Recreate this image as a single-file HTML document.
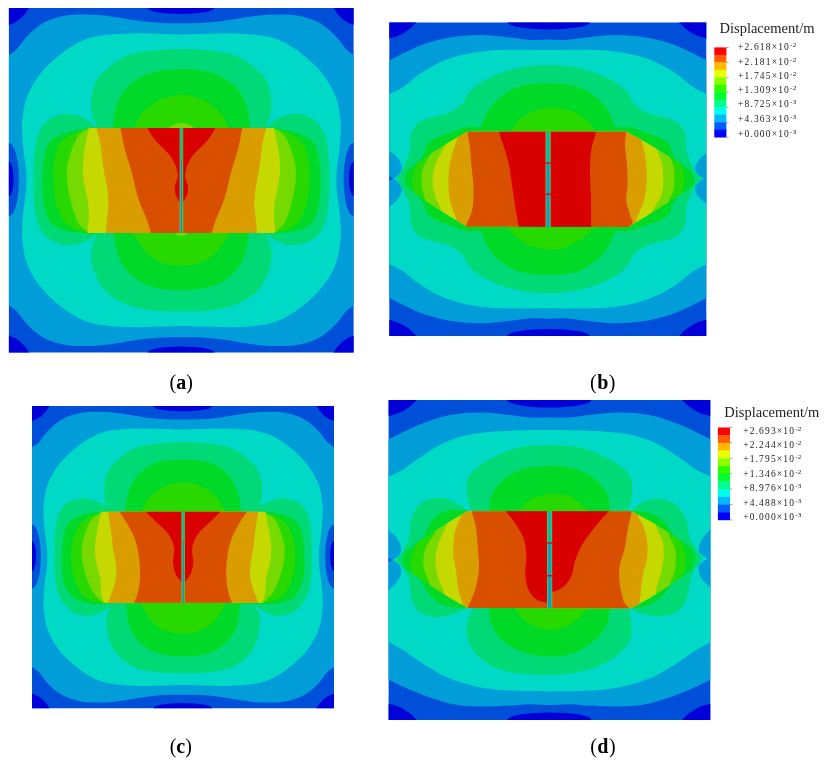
<!DOCTYPE html>
<html><head><meta charset="utf-8"><title>Displacement contours</title>
<style>
html,body{margin:0;padding:0;background:#fff;}
body{width:824px;height:768px;overflow:hidden;position:relative;font-family:"Liberation Serif",serif;color:#111;}
svg{position:absolute;left:0;top:0;}
.cap{position:absolute;font-size:20px;line-height:20px;white-space:nowrap;color:#000;}
.cap b{font-weight:bold;}
</style></head><body>
<svg width="824" height="768" viewBox="0 0 824 768">
<defs><filter id="blur1" x="-5%" y="-5%" width="110%" height="110%"><feGaussianBlur stdDeviation="0.55"/></filter></defs>
<defs><linearGradient id="slg" x1="0" x2="1" y1="0" y2="0"><stop offset="0" stop-color="#8bb32a"/><stop offset="0.22" stop-color="#2fc86a"/><stop offset="0.5" stop-color="#0b86cf"/><stop offset="0.78" stop-color="#2fc86a"/><stop offset="1" stop-color="#8bb32a"/></linearGradient><linearGradient id="slg2" x1="0" x2="1" y1="0" y2="0"><stop offset="0" stop-color="#86a828"/><stop offset="0.25" stop-color="#2cc060"/><stop offset="0.5" stop-color="#0cb4b4"/><stop offset="0.75" stop-color="#2cc060"/><stop offset="1" stop-color="#86a828"/></linearGradient></defs>
<clipPath id="ca"><rect x="8.90" y="7.90" width="344.70" height="344.70"/></clipPath>
<g clip-path="url(#ca)">
<rect x="7.90" y="6.90" width="346.70" height="346.70" fill="#004fd9"/>
<path d="M-1.0 61.0C2.3 59.0 6.0 57.0 9.0 55.0C12.0 53.0 14.3 51.8 17.0 49.0C19.7 46.2 22.0 41.7 25.4 38.0C28.8 34.3 33.0 30.1 37.2 27.0C41.4 23.9 45.7 21.5 50.8 19.5C55.9 17.5 62.1 16.1 67.7 15.2C73.3 14.3 78.9 14.4 84.6 14.4C90.2 14.4 95.7 14.6 101.6 15.2C107.5 15.8 113.9 16.9 120.0 17.8C126.1 18.7 131.4 19.9 138.3 20.8C145.2 21.6 154.2 22.6 161.4 23.0C168.6 23.4 174.7 23.3 181.4 23.3C188.1 23.3 194.2 23.4 201.4 23.0C208.6 22.6 217.6 21.6 224.5 20.8C231.4 19.9 236.7 18.7 242.8 17.8C248.9 16.9 255.3 15.8 261.2 15.2C267.1 14.6 272.6 14.4 278.2 14.4C283.9 14.4 289.5 14.3 295.1 15.2C300.7 16.1 306.9 17.5 312.0 19.5C317.1 21.5 321.4 23.9 325.6 27.0C329.8 30.1 334.0 34.3 337.4 38.0C340.8 41.7 343.1 46.2 345.8 49.0C348.5 51.8 350.8 53.0 353.8 55.0C356.8 57.0 360.5 59.0 363.8 61.0L363.8 299.5C360.5 301.5 356.8 303.5 353.8 305.5C350.8 307.5 348.5 308.7 345.8 311.5C343.1 314.3 340.8 318.8 337.4 322.5C334.0 326.2 329.8 330.4 325.6 333.5C321.4 336.6 317.1 339.0 312.0 341.0C306.9 343.0 300.7 344.4 295.1 345.3C289.5 346.2 283.9 346.1 278.2 346.1C272.6 346.1 267.1 345.9 261.2 345.3C255.3 344.7 248.9 343.6 242.8 342.7C236.7 341.8 231.4 340.6 224.5 339.8C217.6 338.9 208.6 337.9 201.4 337.5C194.2 337.1 188.1 337.2 181.4 337.2C174.7 337.2 168.6 337.1 161.4 337.5C154.2 337.9 145.2 338.9 138.3 339.8C131.4 340.6 126.1 341.8 120.0 342.7C113.9 343.6 107.5 344.7 101.6 345.3C95.7 345.9 90.2 346.1 84.6 346.1C78.9 346.1 73.3 346.2 67.7 345.3C62.1 344.4 55.9 343.0 50.8 341.0C45.7 339.0 41.4 336.6 37.2 333.5C33.0 330.4 28.8 326.2 25.4 322.5C22.0 318.8 19.7 314.3 17.0 311.5C14.3 308.7 12.0 307.5 9.0 305.5C6.0 303.5 2.3 301.5 -1.0 299.5Z" fill="#009dd9"/>
<ellipse cx="8.9" cy="179.5" rx="10.0" ry="36.5" fill="#004fd9"/>
<ellipse cx="8.9" cy="179.0" rx="4.7" ry="17.0" fill="#0000d9"/>
<ellipse cx="353.6" cy="179.5" rx="10.0" ry="36.5" fill="#004fd9"/>
<ellipse cx="353.6" cy="179.0" rx="4.7" ry="17.0" fill="#0000d9"/>
<ellipse cx="181.0" cy="7.9" rx="33.5" ry="6.0" fill="#0000d9"/>
<ellipse cx="181.0" cy="352.6" rx="33.5" ry="6.0" fill="#0000d9"/>
<path d="M6.9 5.9 L6.9 25.5 Q22.0 22.0 30.1 5.9 Z" fill="#0000d9"/>
<path d="M6.9 354.6 L6.9 335.0 Q22.0 338.5 30.1 354.6 Z" fill="#0000d9"/>
<path d="M355.6 5.9 L355.6 25.5 Q340.5 22.0 332.4 5.9 Z" fill="#0000d9"/>
<path d="M355.6 354.6 L355.6 335.0 Q340.5 338.5 332.4 354.6 Z" fill="#0000d9"/>
<path d="M181.4 34.6C174.7 34.6 170.1 34.2 161.4 34.0C152.7 33.8 139.0 33.1 129.0 33.4C119.0 33.6 109.0 34.4 101.6 35.5C94.2 36.6 90.2 37.5 84.6 39.8C78.9 42.0 73.3 45.2 67.7 49.0C62.1 52.8 55.9 57.8 50.8 62.6C45.7 67.4 41.2 72.2 37.2 77.9C33.2 83.6 29.4 90.3 27.0 96.5C24.6 102.7 23.7 109.4 22.9 115.0C22.1 120.6 21.9 124.2 22.0 130.0C22.1 135.8 22.8 143.3 23.5 150.0C24.2 156.7 25.5 165.0 26.0 170.0C26.5 175.0 26.4 176.8 26.4 180.2C26.4 183.7 26.5 185.5 26.0 190.5C25.5 195.5 24.2 203.8 23.5 210.5C22.8 217.2 22.1 224.7 22.0 230.5C21.9 236.3 22.1 239.9 22.9 245.5C23.7 251.1 24.6 257.8 27.0 264.0C29.4 270.2 33.2 277.0 37.2 282.6C41.2 288.2 45.7 293.1 50.8 297.9C55.9 302.7 62.1 307.7 67.7 311.5C73.3 315.3 78.9 318.4 84.6 320.7C90.2 322.9 94.2 323.9 101.6 325.0C109.0 326.1 119.0 326.9 129.0 327.1C139.0 327.4 152.7 326.7 161.4 326.5C170.1 326.3 174.7 325.9 181.4 325.9C188.1 325.9 192.7 326.3 201.4 326.5C210.1 326.7 223.8 327.4 233.8 327.1C243.8 326.9 253.8 326.1 261.2 325.0C268.6 323.9 272.6 322.9 278.2 320.7C283.9 318.4 289.5 315.3 295.1 311.5C300.7 307.7 306.9 302.7 312.0 297.9C317.1 293.1 321.6 288.2 325.6 282.6C329.6 277.0 333.4 270.2 335.8 264.0C338.2 257.8 339.1 251.1 339.9 245.5C340.7 239.9 340.9 236.3 340.8 230.5C340.7 224.7 340.0 217.2 339.3 210.5C338.6 203.8 337.3 195.5 336.8 190.5C336.3 185.5 336.4 183.7 336.4 180.2C336.4 176.8 336.3 175.0 336.8 170.0C337.3 165.0 338.6 156.7 339.3 150.0C340.0 143.3 340.7 135.8 340.8 130.0C340.9 124.2 340.7 120.6 339.9 115.0C339.1 109.4 338.2 102.7 335.8 96.5C333.4 90.3 329.6 83.6 325.6 77.9C321.6 72.2 317.1 67.4 312.0 62.6C306.9 57.8 300.7 52.8 295.1 49.0C289.5 45.2 283.9 42.0 278.2 39.8C272.6 37.5 268.6 36.6 261.2 35.5C253.8 34.4 243.8 33.6 233.8 33.4C223.8 33.1 210.1 33.8 201.4 34.0C192.7 34.2 188.1 34.6 181.4 34.6Z" fill="#00d9c5"/>
<path d="M96.5 127.8C93.7 125.3 91.4 122.3 88.0 120.2C84.6 118.1 80.4 116.0 76.2 115.0C72.0 114.0 66.8 113.7 62.6 114.3C58.4 114.9 54.2 116.4 50.8 118.5C47.4 120.6 44.7 123.4 42.3 127.0C39.9 130.6 37.9 134.5 36.5 140.0C35.1 145.5 34.5 153.3 34.0 160.0C33.5 166.7 33.4 173.6 33.4 180.2C33.4 186.9 33.5 193.5 34.0 200.0C34.5 206.5 35.1 213.7 36.5 219.0C37.9 224.3 39.7 228.4 42.3 232.0C44.9 235.6 48.4 238.3 52.0 240.5C55.6 242.7 60.0 244.3 64.0 245.0C68.0 245.7 72.2 245.3 76.2 244.5C80.2 243.7 84.6 241.8 88.0 240.0C91.4 238.2 93.7 235.7 96.5 233.5L266.3 233.5C269.1 235.7 271.4 238.2 274.8 240.0C278.2 241.8 282.6 243.7 286.6 244.5C290.6 245.3 294.8 245.7 298.8 245.0C302.8 244.3 307.2 242.7 310.8 240.5C314.4 238.3 317.9 235.6 320.5 232.0C323.1 228.4 324.9 224.3 326.3 219.0C327.7 213.7 328.3 206.5 328.8 200.0C329.3 193.5 329.4 186.9 329.4 180.2C329.4 173.6 329.3 166.7 328.8 160.0C328.3 153.3 327.7 145.5 326.3 140.0C324.9 134.5 322.9 130.6 320.5 127.0C318.1 123.4 315.4 120.6 312.0 118.5C308.6 116.4 304.4 114.9 300.2 114.3C296.0 113.7 290.8 114.0 286.6 115.0C282.4 116.0 278.2 118.1 274.8 120.2C271.4 122.3 269.1 125.3 266.3 127.8Z" fill="#00d976"/>
<path d="M89.0 128.2C81.2 129.7 72.2 130.4 65.5 132.8C58.8 135.2 52.6 138.1 49.0 142.8C45.4 147.5 44.8 154.8 43.7 161.0C42.6 167.2 42.4 173.8 42.3 180.2C42.2 186.8 42.7 194.5 43.3 200.0C43.9 205.5 44.7 209.2 46.0 213.0C47.3 216.8 47.8 220.0 51.0 223.0C54.2 226.0 59.2 229.2 65.5 231.0C71.8 232.8 81.2 232.7 89.0 233.5L273.8 233.5C281.6 232.7 291.0 232.8 297.3 231.0C303.6 229.2 308.6 226.0 311.8 223.0C315.1 220.0 315.5 216.8 316.8 213.0C318.1 209.2 318.9 205.5 319.5 200.0C320.1 194.5 320.6 186.8 320.5 180.2C320.4 173.8 320.2 167.2 319.1 161.0C318.0 154.8 317.4 147.5 313.8 142.8C310.2 138.1 304.0 135.2 297.3 132.8C290.6 130.4 281.6 129.7 273.8 128.2Z" fill="#00d927"/>
<path d="M89.0 128.2C84.2 129.7 79.7 130.1 74.7 132.8C69.7 135.5 62.7 139.3 59.2 144.6C55.7 149.9 54.7 158.3 53.8 164.7C52.9 171.1 53.3 176.3 53.7 183.0C54.1 189.7 54.4 198.0 56.4 204.7C58.4 211.4 61.6 218.6 65.5 223.0C69.4 227.4 76.1 229.3 80.0 231.0C83.9 232.7 86.0 232.3 89.0 233.0L273.8 233.0C276.8 232.3 278.9 232.7 282.8 231.0C286.7 229.3 293.4 227.4 297.3 223.0C301.2 218.6 304.4 211.4 306.4 204.7C308.4 198.0 308.7 189.7 309.1 183.0C309.5 176.3 309.9 171.1 309.0 164.7C308.1 158.3 307.1 149.9 303.6 144.6C300.1 139.3 293.1 135.5 288.1 132.8C283.1 130.1 278.6 129.7 273.8 128.2Z" fill="#27d900"/>
<path d="M89.0 128.2C86.0 130.0 82.8 130.7 80.1 133.7C77.4 136.7 74.9 141.2 72.8 146.4C70.7 151.6 68.7 159.5 67.7 164.7C66.7 169.9 66.8 172.8 67.0 177.4C67.2 182.0 67.8 186.8 68.8 192.0C69.8 197.2 71.2 203.2 72.8 208.4C74.4 213.6 76.2 219.4 78.3 223.0C80.4 226.6 83.9 228.5 85.6 230.2C87.3 231.9 87.5 232.1 88.5 233.0L274.3 233.0C275.3 232.1 275.5 231.9 277.2 230.2C278.9 228.5 282.4 226.6 284.5 223.0C286.6 219.4 288.4 213.6 290.0 208.4C291.6 203.2 293.0 197.2 294.0 192.0C295.0 186.8 295.6 182.0 295.8 177.4C296.0 172.8 296.1 169.9 295.1 164.7C294.1 159.5 292.1 151.6 290.0 146.4C287.9 141.2 285.4 136.7 282.7 133.7C280.0 130.7 276.8 130.0 273.8 128.2Z" fill="#76d900"/>
<path d="M97.5 128.5C96.6 126.3 95.7 124.2 94.8 121.9C93.9 119.7 92.8 118.4 92.2 115.0C91.6 111.6 91.2 105.8 91.4 101.6C91.6 97.4 92.0 93.7 93.1 89.7C94.2 85.8 95.7 81.6 98.2 77.9C100.7 74.2 104.7 70.8 108.3 67.7C111.9 64.6 115.8 61.6 120.0 59.2C124.2 56.8 127.6 55.0 133.7 53.5C139.8 52.0 148.9 51.0 156.8 50.3C164.8 49.5 173.2 49.0 181.4 49.0C189.6 49.0 198.1 49.5 206.0 50.3C213.9 51.0 223.0 52.0 229.1 53.5C235.2 55.0 238.6 56.8 242.8 59.2C247.0 61.6 250.9 64.6 254.5 67.7C258.1 70.8 262.1 74.2 264.6 77.9C267.1 81.6 268.6 85.8 269.7 89.7C270.8 93.7 271.2 97.4 271.4 101.6C271.5 105.8 271.2 111.6 270.6 115.0C270.0 118.4 268.9 119.7 268.0 121.9C267.1 124.2 266.2 126.3 265.3 128.5Z" fill="#00d976"/>
<path d="M113.1 128.5C113.3 125.1 112.9 122.6 113.6 118.4C114.3 114.2 115.4 108.3 117.3 103.5C119.2 98.7 121.1 94.1 124.8 89.8C128.5 85.5 133.9 80.6 139.7 77.4C145.5 74.2 152.6 72.1 159.6 70.7C166.6 69.3 174.1 69.2 181.4 69.2C188.7 69.2 196.2 69.3 203.2 70.7C210.2 72.1 217.3 74.2 223.1 77.4C228.9 80.6 234.3 85.5 238.0 89.8C241.7 94.1 243.6 98.7 245.5 103.5C247.4 108.3 248.5 114.2 249.2 118.4C249.9 122.6 249.5 125.1 249.7 128.5Z" fill="#00d927"/>
<path d="M133.8 128.5C136.7 123.2 138.1 117.2 142.5 112.5C146.9 107.8 153.5 103.0 160.0 100.0C166.5 97.0 174.3 94.8 181.4 94.8C188.5 94.8 196.3 97.0 202.8 100.0C209.3 103.0 215.9 107.8 220.3 112.5C224.7 117.2 226.1 123.2 229.1 128.5Z" fill="#27d900"/>
<path d="M168.6 128.4C169.4 127.7 169.8 127.0 171.0 126.3C172.2 125.6 173.8 124.5 175.5 124.0C177.2 123.5 179.4 123.0 181.4 123.0C183.4 123.0 185.6 123.5 187.3 124.0C189.0 124.5 190.7 125.6 191.8 126.3C193.0 127.0 193.4 127.7 194.2 128.4Z" fill="#76d900"/>
<path d="M98.0 232.5C97.0 234.3 96.0 234.6 94.9 238.0C93.8 241.4 91.4 247.5 91.2 252.9C91.0 258.3 91.6 264.3 93.7 270.3C95.8 276.3 98.8 283.6 103.6 289.0C108.4 294.4 114.6 299.1 122.3 302.6C130.0 306.1 139.8 308.7 149.7 310.1C159.5 311.6 170.8 311.3 181.4 311.3C192.0 311.3 203.3 311.6 213.1 310.1C223.0 308.7 232.8 306.1 240.5 302.6C248.2 299.1 254.4 294.4 259.2 289.0C264.0 283.6 267.0 276.3 269.1 270.3C271.2 264.3 271.8 258.3 271.6 252.9C271.4 247.5 269.0 241.4 267.9 238.0C266.8 234.6 265.8 234.3 264.8 232.5Z" fill="#00d976"/>
<path d="M113.6 232.5C114.8 239.3 115.4 247.0 117.3 252.9C119.2 258.8 121.1 263.0 124.8 267.8C128.5 272.6 133.9 278.1 139.7 281.5C145.5 284.9 152.6 287.1 159.6 288.5C166.6 289.9 174.1 290.2 181.4 290.2C188.7 290.2 196.2 289.9 203.2 288.5C210.2 287.1 217.3 284.9 223.1 281.5C228.9 278.1 234.3 272.6 238.0 267.8C241.7 263.0 243.6 258.8 245.5 252.9C247.4 247.0 248.0 239.3 249.2 232.5Z" fill="#00d927"/>
<path d="M133.5 232.5C134.3 234.3 133.7 234.6 136.0 238.0C138.3 241.4 142.8 248.8 147.2 252.9C151.5 257.0 156.4 260.7 162.1 262.8C167.8 264.9 175.0 265.8 181.4 265.8C187.8 265.8 195.0 264.9 200.7 262.8C206.4 260.7 211.3 257.0 215.6 252.9C220.0 248.8 224.5 241.4 226.8 238.0C229.1 234.6 228.5 234.3 229.3 232.5Z" fill="#27d900"/>
<path d="M174.8 232.8C175.7 233.5 176.4 234.5 177.5 234.9C178.6 235.3 180.1 235.5 181.4 235.5C182.7 235.5 184.2 235.3 185.3 234.9C186.4 234.5 187.1 233.5 188.0 232.8Z" fill="#76d900"/>
<path d="M88.9 127.9C87.8 132.9 86.5 137.9 85.6 142.8C84.7 147.7 83.9 152.5 83.4 157.4C83.0 162.3 82.7 167.2 82.9 172.0C83.1 176.8 83.9 181.7 84.7 186.5C85.5 191.3 87.1 196.1 87.8 201.0C88.5 205.9 88.9 211.4 88.9 215.7C88.9 220.0 88.0 223.7 87.8 226.6C87.6 229.5 87.8 230.8 87.8 232.9L275.0 232.9C275.0 230.8 275.2 229.5 275.0 226.6C274.8 223.7 273.9 220.0 273.9 215.7C273.9 211.4 274.3 205.9 275.0 201.0C275.7 196.1 277.3 191.3 278.1 186.5C278.9 181.7 279.7 176.8 279.9 172.0C280.1 167.2 279.8 162.3 279.4 157.4C278.9 152.5 278.1 147.7 277.2 142.8C276.3 137.9 275.0 132.9 273.9 127.9Z" fill="#c5d900"/>
<path d="M96.5 127.9C97.7 132.9 99.3 137.9 100.2 142.8C101.1 147.7 101.2 151.9 102.0 157.4C102.8 162.9 103.8 170.2 104.7 175.6C105.6 181.0 106.8 185.2 107.4 190.0C108.0 194.8 108.5 199.8 108.4 204.7C108.3 209.6 107.5 214.6 107.0 219.3C106.5 224.0 106.1 228.4 105.6 232.9L257.2 232.9C256.7 228.4 256.3 224.0 255.8 219.3C255.3 214.6 254.5 209.6 254.4 204.7C254.3 199.8 254.8 194.8 255.4 190.0C256.0 185.2 257.2 181.0 258.1 175.6C259.0 170.2 260.1 162.9 260.8 157.4C261.6 151.9 261.7 147.7 262.6 142.8C263.5 137.9 265.1 132.9 266.3 127.9Z" fill="#d99d00"/>
<path d="M120.5 127.9C121.9 135.0 123.0 142.1 124.8 149.3C126.6 156.5 129.2 163.2 131.4 171.2C133.6 179.2 135.4 189.4 138.0 197.4C140.6 205.4 144.5 213.3 146.7 219.2C148.9 225.1 149.6 228.3 151.0 232.9L211.8 232.9C213.2 228.3 213.9 225.1 216.1 219.2C218.3 213.3 222.2 205.4 224.8 197.4C227.4 189.4 229.2 179.2 231.4 171.2C233.6 163.2 236.2 156.5 238.0 149.3C239.8 142.1 240.9 135.0 242.3 127.9Z" fill="#d94f00"/>
<path d="M147.3 127.9C150.0 132.1 151.9 136.3 155.4 140.6C158.9 144.9 165.2 149.7 168.5 153.7C171.8 157.7 173.6 160.9 175.1 164.6C176.6 168.3 177.8 172.2 177.7 175.8C177.6 179.5 175.2 183.5 174.8 186.5C174.4 189.5 174.9 191.8 175.5 194.0C176.1 196.2 177.4 198.5 178.3 200.0C179.2 201.5 180.1 202.0 181.0 203.0L181.4 203.0L181.4 127.9Z" fill="#d90000"/>
<path d="M215.5 127.9C212.8 132.1 210.9 136.3 207.4 140.6C203.9 144.9 197.6 149.7 194.3 153.7C191.0 157.7 189.2 160.9 187.7 164.6C186.2 168.3 185.1 172.2 185.1 175.8C185.2 179.5 187.6 183.5 188.0 186.5C188.4 189.5 187.9 191.8 187.3 194.0C186.7 196.2 185.4 198.5 184.5 200.0C183.6 201.5 182.7 202.0 181.8 203.0L181.4 203.0L181.4 127.9Z" fill="#d90000"/>
<rect x="179.60" y="127.90" width="3.60" height="34.30" fill="url(#slg2)"/>
<rect x="179.60" y="162.20" width="3.60" height="70.70" fill="url(#slg)"/>
<rect x="181.20" y="161.70" width="3.00" height="1" fill="#d94f00"/>
<rect x="181.20" y="196.80" width="3.00" height="1" fill="#d94f00"/>
</g>
<clipPath id="cb"><rect x="389.30" y="22.40" width="317.00" height="313.50"/></clipPath>
<g filter="url(#blur1)"><g clip-path="url(#cb)">
<rect x="386.30" y="19.40" width="323.00" height="319.50" fill="#004fd9"/>
<path d="M378.0 66.0C382.0 64.0 385.5 62.2 390.0 60.0C394.5 57.8 399.2 55.2 405.0 52.5C410.8 49.8 417.5 46.2 425.0 43.8C432.5 41.2 440.8 39.0 450.0 37.5C459.2 36.0 470.0 35.0 480.0 35.0C490.0 35.0 501.7 36.7 510.0 37.5C518.3 38.3 523.7 39.7 530.0 40.0C536.3 40.3 545.0 39.6 548.0 39.5C551.0 39.4 545.2 39.4 548.2 39.5C551.2 39.6 559.9 40.3 566.2 40.0C572.5 39.7 577.9 38.3 586.2 37.5C594.5 36.7 606.2 35.0 616.2 35.0C626.2 35.0 637.0 36.0 646.2 37.5C655.4 39.0 663.7 41.2 671.2 43.8C678.7 46.2 685.4 49.8 691.2 52.5C697.0 55.2 701.7 57.8 706.2 60.0C710.7 62.2 714.2 64.0 718.2 66.0L718.2 292.2C714.2 294.2 710.7 295.9 706.2 298.2C701.7 300.4 697.0 303.0 691.2 305.7C685.4 308.4 678.7 311.9 671.2 314.4C663.7 316.9 655.4 319.2 646.2 320.7C637.0 322.2 626.2 323.2 616.2 323.2C606.2 323.2 594.5 321.5 586.2 320.7C577.9 319.9 572.5 318.5 566.2 318.2C559.9 317.9 551.2 318.6 548.2 318.7C545.2 318.8 551.0 318.8 548.0 318.7C545.0 318.6 536.3 317.9 530.0 318.2C523.7 318.5 518.3 319.9 510.0 320.7C501.7 321.5 490.0 323.2 480.0 323.2C470.0 323.2 459.2 322.2 450.0 320.7C440.8 319.2 432.5 316.9 425.0 314.4C417.5 311.9 410.8 308.4 405.0 305.7C399.2 303.0 394.5 300.4 390.0 298.2C385.5 295.9 382.0 294.2 378.0 292.2Z" fill="#009dd9"/>
<path d="M378.0 99.0C382.0 97.2 385.9 95.7 390.0 93.8C394.1 91.8 397.5 90.8 402.5 87.5C407.5 84.2 413.3 78.1 420.0 73.8C426.7 69.4 434.6 64.6 442.5 61.2C450.4 57.9 457.9 55.6 467.5 53.8C477.1 51.9 486.6 50.6 500.0 50.0C513.4 49.4 540.0 50.0 548.0 50.0C556.0 50.0 540.2 50.0 548.2 50.0C556.2 50.0 582.8 49.4 596.2 50.0C609.6 50.6 619.1 51.9 628.7 53.8C638.3 55.6 645.8 57.9 653.7 61.2C661.6 64.6 669.5 69.4 676.2 73.8C682.9 78.1 688.7 84.2 693.7 87.5C698.7 90.8 702.1 91.8 706.2 93.8C710.3 95.7 714.2 97.2 718.2 99.0L718.2 259.2C714.2 260.9 710.3 262.5 706.2 264.4C702.1 266.4 698.7 267.4 693.7 270.7C688.7 274.0 682.9 280.1 676.2 284.4C669.5 288.8 661.6 293.6 653.7 296.9C645.8 300.3 638.3 302.6 628.7 304.4C619.1 306.3 609.6 307.6 596.2 308.2C582.8 308.8 556.2 308.2 548.2 308.2C540.2 308.2 556.0 308.2 548.0 308.2C540.0 308.2 513.4 308.8 500.0 308.2C486.6 307.6 477.1 306.3 467.5 304.4C457.9 302.6 450.4 300.3 442.5 296.9C434.6 293.6 426.7 288.8 420.0 284.4C413.3 280.1 407.5 274.0 402.5 270.7C397.5 267.4 394.1 266.4 390.0 264.4C385.9 262.5 382.0 260.9 378.0 259.2Z" fill="#00d9c5"/>
<ellipse cx="548.5" cy="22.4" rx="41" ry="7" fill="#0000d9"/>
<ellipse cx="548.5" cy="335.9" rx="41" ry="7" fill="#0000d9"/>
<path d="M387.3 20.4 L387.3 39.0 Q406.0 35.7 418.1 20.4 Z" fill="#0000d9"/>
<path d="M387.3 337.9 L387.3 319.3 Q406.0 322.6 418.1 337.9 Z" fill="#0000d9"/>
<path d="M708.3 20.4 L708.3 39.0 Q689.6 35.7 677.5 20.4 Z" fill="#0000d9"/>
<path d="M708.3 337.9 L708.3 319.3 Q689.6 322.6 677.5 337.9 Z" fill="#0000d9"/>
<path d="M388.0 150.0C390.7 152.0 393.8 153.7 396.0 156.0C398.2 158.3 400.1 161.7 401.0 164.0C401.9 166.3 401.9 168.2 401.5 170.0C401.1 171.8 399.7 173.5 398.5 175.0C397.3 176.5 394.4 177.5 394.4 178.8C394.4 180.0 397.3 181.0 398.5 182.5C399.7 184.0 401.1 185.8 401.5 187.5C401.9 189.2 401.9 190.8 401.0 193.0C400.1 195.2 398.2 198.5 396.0 201.0C393.8 203.5 390.7 205.7 388.0 208.0Z" fill="#009dd9"/>
<path d="M708.0 152.0C705.5 154.0 702.5 155.8 700.5 158.0C698.5 160.2 696.9 163.0 696.0 165.0C695.1 167.0 694.8 168.3 695.2 170.0C695.6 171.7 697.1 173.5 698.5 175.0C699.9 176.5 703.5 177.5 703.5 178.8C703.5 180.0 699.9 181.0 698.5 182.5C697.1 184.0 695.6 185.8 695.2 187.5C694.8 189.2 695.1 191.1 696.0 193.0C696.9 194.9 698.5 197.0 700.5 199.0C702.5 201.0 705.5 203.0 708.0 205.0Z" fill="#009dd9"/>
<ellipse cx="390.3" cy="178.6" rx="2" ry="1.8" fill="#004fd9"/>
<path d="M548.0 65.3C540.3 65.3 532.2 65.8 525.0 66.8C517.8 67.8 511.7 69.3 505.0 71.5C498.3 73.7 490.8 76.8 485.0 80.0C479.2 83.2 473.8 87.0 470.0 91.0C466.2 95.0 465.8 100.2 462.0 104.0C458.2 107.8 453.4 111.0 447.5 113.5C441.6 116.0 431.9 116.8 426.7 118.8C421.5 120.7 418.9 122.2 416.2 125.0C413.6 127.8 412.0 131.2 411.0 135.4C410.0 139.6 410.9 145.5 410.0 150.0C409.1 154.5 407.5 158.5 405.8 162.5C404.1 166.5 401.6 171.2 400.0 174.0C398.4 176.8 396.5 177.4 396.5 179.1C396.5 180.8 398.4 181.4 400.0 184.2C401.6 187.0 404.1 191.7 405.8 195.7C407.5 199.7 409.1 203.7 410.0 208.2C410.9 212.7 410.0 218.6 411.0 222.8C412.0 227.0 413.6 230.4 416.2 233.2C418.9 236.0 421.5 237.5 426.7 239.4C431.9 241.4 441.6 242.2 447.5 244.7C453.4 247.2 458.2 250.4 462.0 254.2C465.8 257.9 466.2 263.2 470.0 267.2C473.8 271.2 479.2 274.9 485.0 278.2C490.8 281.4 498.3 284.5 505.0 286.7C511.7 288.9 517.8 290.4 525.0 291.4C532.2 292.4 540.5 292.9 548.2 292.9C555.9 292.9 564.0 292.4 571.2 291.4C578.4 290.4 584.5 288.9 591.2 286.7C597.9 284.5 605.4 281.4 611.2 278.2C617.0 274.9 622.4 271.2 626.2 267.2C630.0 263.2 630.5 257.9 634.2 254.2C638.0 250.4 642.8 247.2 648.7 244.7C654.6 242.2 664.3 241.4 669.5 239.4C674.7 237.5 677.3 236.0 680.0 233.2C682.6 230.4 684.2 227.0 685.2 222.8C686.2 218.6 685.3 212.7 686.2 208.2C687.1 203.7 688.7 199.7 690.4 195.7C692.1 191.7 694.7 187.0 696.2 184.2C697.8 181.4 699.7 180.8 699.7 179.1C699.7 177.4 697.8 176.8 696.2 174.0C694.7 171.2 692.1 166.5 690.4 162.5C688.7 158.5 687.1 154.5 686.2 150.0C685.3 145.5 686.2 139.6 685.2 135.4C684.2 131.2 682.6 127.8 680.0 125.0C677.3 122.2 674.7 120.7 669.5 118.8C664.3 116.8 654.6 116.0 648.7 113.5C642.8 111.0 638.0 107.8 634.2 104.0C630.5 100.2 630.0 95.0 626.2 91.0C622.4 87.0 617.0 83.2 611.2 80.0C605.4 76.8 597.9 73.7 591.2 71.5C584.5 69.3 578.4 67.8 571.2 66.8C564.0 65.8 555.7 65.3 548.0 65.3Z" fill="#00d976"/>
<path d="M548.0 83.2C538.5 83.2 527.6 84.0 519.6 86.4C511.6 88.8 505.1 93.2 499.7 97.6C494.3 101.9 490.2 108.1 487.3 112.5C484.4 116.9 483.5 121.5 482.3 124.0C481.1 126.5 482.3 126.8 480.0 127.3C477.7 127.8 472.7 126.3 468.3 127.0C463.9 127.7 459.0 129.5 453.8 131.2C448.5 133.0 441.5 135.2 437.0 137.5C432.5 139.8 428.8 142.4 426.7 144.8C424.6 147.2 426.0 149.1 424.6 152.0C423.2 154.9 420.1 159.8 418.3 162.5C416.5 165.2 415.1 165.2 414.0 168.0C412.9 170.8 412.0 175.4 412.0 179.1C412.0 182.8 412.9 187.4 414.0 190.2C415.1 193.0 416.5 193.0 418.3 195.7C420.1 198.4 423.2 203.2 424.6 206.2C426.0 209.1 424.6 211.0 426.7 213.4C428.8 215.8 432.5 218.4 437.0 220.7C441.5 223.0 448.5 225.2 453.8 226.9C459.0 228.7 463.9 230.5 468.3 231.2C472.7 231.9 477.7 230.4 480.0 230.9C482.3 231.4 481.1 231.7 482.3 234.2C483.5 236.7 484.4 241.3 487.3 245.7C490.2 250.1 494.3 256.2 499.7 260.6C505.1 265.0 511.5 269.4 519.6 271.8C527.7 274.2 538.7 275.0 548.2 275.0C557.7 275.0 568.6 274.2 576.6 271.8C584.6 269.4 591.1 265.0 596.5 260.6C601.9 256.2 606.0 250.1 608.9 245.7C611.8 241.3 612.7 236.7 613.9 234.2C615.1 231.7 613.9 231.4 616.2 230.9C618.5 230.4 623.5 231.9 627.9 231.2C632.3 230.5 637.2 228.7 642.5 226.9C647.7 225.2 654.7 223.0 659.2 220.7C663.7 218.4 667.4 215.8 669.5 213.4C671.6 211.0 670.2 209.1 671.6 206.2C673.0 203.2 676.1 198.4 677.9 195.7C679.7 193.0 681.2 193.0 682.2 190.2C683.2 187.4 684.2 182.8 684.2 179.1C684.2 175.4 683.2 170.8 682.2 168.0C681.2 165.2 679.7 165.2 677.9 162.5C676.1 159.8 673.0 154.9 671.6 152.0C670.2 149.1 671.6 147.2 669.5 144.8C667.4 142.4 663.7 139.8 659.2 137.5C654.7 135.2 647.7 133.0 642.5 131.2C637.2 129.5 632.3 127.7 627.9 127.0C623.5 126.3 618.5 127.8 616.2 127.3C613.9 126.8 615.1 126.5 613.9 124.0C612.7 121.5 611.8 116.9 608.9 112.5C606.0 108.1 601.9 101.9 596.5 97.6C591.1 93.2 584.7 88.8 576.6 86.4C568.5 84.0 557.5 83.2 548.0 83.2Z" fill="#00d927"/>
<path d="M510.0 131.8C513.7 127.3 516.0 122.2 521.0 118.5C526.0 114.8 533.5 111.0 540.0 109.3C546.5 107.6 553.5 107.4 560.0 108.3C566.5 109.2 573.8 111.7 579.0 114.5C584.2 117.3 588.2 122.1 591.0 125.0C593.8 127.9 594.0 129.5 595.5 131.8Z" fill="#27d900"/>
<path d="M507.5 227.5C511.7 231.7 514.6 236.5 520.0 240.0C525.4 243.5 533.3 247.3 540.0 248.8C546.7 250.2 553.3 250.2 560.0 248.8C566.7 247.3 574.6 243.1 580.0 240.0C585.4 236.9 589.8 232.1 592.5 230.0C595.2 227.9 594.8 228.3 596.0 227.5Z" fill="#27d900"/>
<clipPath id="hb"><path d="M394.4 178.8 Q433.0 150.5 467.3 131.7 L626.4 131.7 Q662.0 150.5 703.5 178.8 Q662.0 207.5 628.0 227.0 L467.3 226.7 Q433.0 207.5 394.4 178.8Z"/></clipPath>
<g clip-path="url(#hb)">
<rect x="390" y="125" width="320" height="110" fill="#00d9c5"/>
<path d="M398.5 162.0C398.5 166.0 398.8 171.2 398.5 174.0C398.2 176.8 396.5 177.2 396.5 178.8C396.5 180.3 398.2 180.7 398.5 183.5C398.8 186.3 398.5 191.5 398.5 195.5L548.1 245.0L548.1 115.0Z" fill="#00d976"/>
<path d="M407.5 156.0C407.5 160.0 408.0 164.2 407.5 168.0C407.0 171.8 404.6 175.2 404.4 178.8C404.2 182.2 406.1 185.3 406.5 189.0C406.9 192.7 406.5 197.0 406.5 201.0L548.1 245.0L548.1 115.0Z" fill="#00d927"/>
<path d="M417.0 150.0C417.0 154.0 417.8 157.2 417.0 162.0C416.2 166.8 412.5 173.6 412.0 178.8C411.5 183.9 413.7 188.6 414.0 193.0C414.3 197.4 414.0 201.0 414.0 205.0L548.1 245.0L548.1 115.0Z" fill="#27d900"/>
<path d="M430.5 141.0C430.5 145.0 431.8 148.5 430.5 153.0C429.2 157.5 424.5 163.7 423.0 168.0C421.5 172.3 421.6 175.1 421.5 178.8C421.4 182.4 421.9 186.5 422.5 190.0C423.1 193.5 424.6 196.3 425.0 200.0C425.4 203.7 425.0 208.0 425.0 212.0L548.1 245.0L548.1 115.0Z" fill="#76d900"/>
<path d="M446.0 131.0C446.0 135.0 447.7 137.7 446.0 143.0C444.3 148.3 438.2 157.0 436.0 163.0C433.8 169.0 432.7 173.4 432.5 178.8C432.3 184.1 433.6 189.8 435.0 195.0C436.4 200.2 440.0 205.5 441.0 210.0C442.0 214.5 441.0 218.0 441.0 222.0L548.1 245.0L548.1 115.0Z" fill="#c5d900"/>
<path d="M458.0 124.0C458.0 128.0 459.2 130.3 458.0 136.0C456.8 141.7 452.6 150.9 451.0 158.0C449.4 165.1 448.7 171.8 448.5 178.8C448.3 185.8 448.8 193.3 450.0 200.0C451.2 206.7 455.0 213.8 456.0 219.0C457.0 224.2 456.0 227.0 456.0 231.0L548.1 245.0L548.1 115.0Z" fill="#d99d00"/>
<path d="M467.3 118.0C467.3 122.0 466.9 125.0 467.3 130.0C467.8 135.0 469.3 141.8 470.0 147.9C470.7 154.0 470.9 160.1 471.5 166.7C472.1 173.3 473.3 180.6 473.5 187.5C473.7 194.4 473.4 202.8 472.5 208.3C471.6 213.9 469.5 217.5 468.3 220.8C467.1 224.1 465.7 224.8 465.2 228.0C464.7 231.2 465.2 236.0 465.2 240.0L548.1 245.0L548.1 115.0Z" fill="#d94f00"/>
<path d="M498.8 119.0C498.8 123.0 497.7 125.8 498.8 131.0C499.8 136.2 503.3 144.3 505.0 150.0C506.7 155.7 507.8 159.2 509.0 165.0C510.2 170.8 511.0 178.3 512.0 185.0C513.0 191.7 513.9 197.8 515.0 205.0C516.1 212.2 518.1 222.2 518.8 228.0C519.4 233.8 518.8 236.0 518.8 240.0L548.1 245.0L548.1 115.0Z" fill="#d90000"/>
<path d="M699.5 162.0C699.5 166.0 699.2 171.2 699.5 174.0C699.8 176.8 701.5 177.2 701.5 178.8C701.5 180.3 699.8 180.7 699.5 183.5C699.2 186.3 699.5 191.5 699.5 195.5L548.1 245.0L548.1 115.0Z" fill="#00d976"/>
<path d="M691.0 156.0C691.0 160.0 690.5 164.2 691.0 168.0C691.5 171.8 694.0 175.2 694.2 178.8C694.4 182.2 692.4 185.3 692.0 189.0C691.6 192.7 692.0 197.0 692.0 201.0L548.1 245.0L548.1 115.0Z" fill="#00d927"/>
<path d="M681.0 149.0C681.0 153.0 680.4 156.0 681.0 161.0C681.6 166.0 684.5 173.4 684.8 178.8C685.1 184.1 683.3 188.6 683.0 193.0C682.7 197.4 683.0 201.0 683.0 205.0L548.1 245.0L548.1 115.0Z" fill="#27d900"/>
<path d="M668.0 140.0C668.0 144.0 667.1 147.7 668.0 152.0C668.9 156.3 672.4 161.5 673.5 166.0C674.6 170.5 674.5 174.4 674.4 178.8C674.3 183.1 674.1 188.0 673.0 192.0C671.9 196.0 668.8 199.2 668.0 203.0C667.2 206.8 668.0 211.0 668.0 215.0L548.1 245.0L548.1 115.0Z" fill="#76d900"/>
<path d="M653.0 129.0C653.0 133.0 651.7 135.8 653.0 141.0C654.3 146.2 659.3 153.7 661.0 160.0C662.7 166.3 663.3 172.8 663.3 178.8C663.3 184.8 662.9 190.5 661.0 196.0C659.1 201.5 653.5 207.3 652.0 212.0C650.5 216.7 652.0 220.0 652.0 224.0L548.1 245.0L548.1 115.0Z" fill="#c5d900"/>
<path d="M640.0 122.0C640.0 126.0 639.2 128.5 640.0 134.0C640.8 139.5 643.9 147.5 645.0 155.0C646.1 162.5 646.9 171.2 646.7 178.8C646.5 186.2 645.8 193.0 644.0 200.0C642.2 207.0 637.3 215.5 636.0 221.0C634.7 226.5 636.0 229.0 636.0 233.0L548.1 245.0L548.1 115.0Z" fill="#d99d00"/>
<path d="M626.4 118.0C626.4 122.0 626.6 125.5 626.4 130.0C626.2 134.5 624.9 139.2 625.0 145.0C625.1 150.8 626.6 158.3 627.0 165.0C627.4 171.7 627.6 179.2 627.5 185.0C627.4 190.8 625.8 195.0 626.2 200.0C626.7 205.0 629.0 211.2 630.0 215.0C631.0 218.8 632.7 220.2 632.5 222.5C632.3 224.8 629.4 225.9 628.8 229.0C628.1 232.1 628.8 237.0 628.8 241.0L548.1 245.0L548.1 115.0Z" fill="#d94f00"/>
<path d="M596.2 119.0C596.2 123.0 597.1 125.8 596.2 131.0C595.4 136.2 592.3 143.1 591.2 150.0C590.2 156.9 590.0 164.2 590.0 172.5C590.0 180.8 590.8 190.8 591.0 200.0C591.2 209.2 591.2 221.3 591.2 228.0C591.3 234.7 591.2 236.0 591.2 240.0L548.1 245.0L548.1 115.0Z" fill="#d90000"/>
</g>
<rect x="545.60" y="131.70" width="5.00" height="95.30" fill="#c8b410"/>
<rect x="546.00" y="131.70" width="4.20" height="95.30" fill="#30d060"/>
<rect x="546.50" y="131.70" width="3.20" height="31.30" fill="#10b8a8"/>
<rect x="546.50" y="163.00" width="3.20" height="64.00" fill="#08a0c4"/>
<rect x="545.60" y="162.40" width="5.60" height="1.2" fill="#d90000"/>
<rect x="545.60" y="193.60" width="5.60" height="1.2" fill="#d90000"/>
</g></g>
<clipPath id="cc"><rect x="32.00" y="406.10" width="302.00" height="302.20"/></clipPath>
<g clip-path="url(#cc)">
<rect x="31.00" y="405.10" width="304.00" height="304.20" fill="#004fd9"/>
<path d="M23.3 452.7C26.2 450.9 29.5 449.1 32.1 447.4C34.7 445.6 36.7 444.6 39.1 442.1C41.5 439.6 43.5 435.7 46.5 432.5C49.4 429.3 53.1 425.5 56.8 422.8C60.5 420.1 64.3 418.0 68.7 416.3C73.2 414.5 78.6 413.2 83.5 412.5C88.5 411.8 93.4 411.8 98.3 411.8C103.3 411.8 108.0 412.0 113.2 412.5C118.4 413.0 124.0 414.0 129.3 414.8C134.7 415.6 139.3 416.6 145.4 417.4C151.4 418.1 159.3 419.0 165.6 419.3C171.9 419.7 177.3 419.6 183.1 419.6C189.0 419.6 194.4 419.7 200.7 419.3C206.9 419.0 214.8 418.1 220.9 417.4C226.9 416.6 231.6 415.6 236.9 414.8C242.3 414.0 247.9 413.0 253.0 412.5C258.2 412.0 263.0 411.8 267.9 411.8C272.9 411.8 277.8 411.8 282.7 412.5C287.7 413.2 293.1 414.5 297.6 416.3C302.0 418.0 305.8 420.1 309.5 422.8C313.2 425.5 316.9 429.3 319.8 432.5C322.8 435.7 324.8 439.6 327.2 442.1C329.6 444.6 331.5 445.6 334.2 447.4C336.8 449.1 340.0 450.9 342.9 452.7L342.9 661.7C340.0 663.5 336.8 665.3 334.2 667.0C331.5 668.8 329.6 669.8 327.2 672.3C324.8 674.8 322.8 678.7 319.8 681.9C316.9 685.1 313.2 688.9 309.5 691.6C305.8 694.3 302.0 696.4 297.6 698.1C293.1 699.9 287.7 701.2 282.7 701.9C277.8 702.6 272.9 702.6 267.9 702.6C263.0 702.6 258.2 702.4 253.0 701.9C247.9 701.4 242.3 700.4 236.9 699.6C231.6 698.8 226.9 697.8 220.9 697.0C214.8 696.3 206.9 695.4 200.7 695.1C194.4 694.7 189.0 694.8 183.1 694.8C177.3 694.8 171.9 694.7 165.6 695.1C159.3 695.4 151.4 696.3 145.4 697.0C139.3 697.8 134.7 698.8 129.3 699.6C124.0 700.4 118.4 701.4 113.2 701.9C108.0 702.4 103.3 702.6 98.3 702.6C93.4 702.6 88.5 702.6 83.5 701.9C78.6 701.2 73.2 699.9 68.7 698.1C64.3 696.4 60.5 694.3 56.8 691.6C53.1 688.9 49.4 685.1 46.5 681.9C43.5 678.7 41.5 674.8 39.1 672.3C36.7 669.8 34.7 668.8 32.1 667.0C29.5 665.3 26.2 663.5 23.3 661.7Z" fill="#009dd9"/>
<ellipse cx="32.0" cy="556.5" rx="8.8" ry="32.0" fill="#004fd9"/>
<ellipse cx="32.0" cy="556.1" rx="4.1" ry="14.9" fill="#0000d9"/>
<ellipse cx="334.0" cy="556.5" rx="8.8" ry="32.0" fill="#004fd9"/>
<ellipse cx="334.0" cy="556.1" rx="4.1" ry="14.9" fill="#0000d9"/>
<ellipse cx="182.8" cy="406.1" rx="29.4" ry="5.3" fill="#0000d9"/>
<ellipse cx="182.8" cy="708.3" rx="29.4" ry="5.3" fill="#0000d9"/>
<path d="M30.0 404.1 L30.0 421.5 Q43.5 418.4 50.6 404.1 Z" fill="#0000d9"/>
<path d="M30.0 710.3 L30.0 692.9 Q43.5 696.0 50.6 710.3 Z" fill="#0000d9"/>
<path d="M336.0 404.1 L336.0 421.5 Q322.5 418.4 315.4 404.1 Z" fill="#0000d9"/>
<path d="M336.0 710.3 L336.0 692.9 Q322.5 696.0 315.4 710.3 Z" fill="#0000d9"/>
<path d="M183.1 429.5C177.3 429.5 173.3 429.2 165.6 429.0C158.0 428.8 146.0 428.2 137.2 428.5C128.5 428.7 119.7 429.4 113.2 430.3C106.7 431.2 103.3 432.1 98.3 434.1C93.4 436.0 88.5 438.8 83.5 442.1C78.6 445.5 73.2 449.8 68.7 454.1C64.3 458.3 60.3 462.5 56.8 467.5C53.3 472.4 49.9 478.4 47.9 483.8C45.8 489.2 45.0 495.1 44.3 500.0C43.5 504.9 43.4 508.0 43.5 513.1C43.6 518.3 44.2 524.8 44.8 530.7C45.4 536.5 46.6 543.8 47.0 548.2C47.4 552.6 47.3 554.2 47.3 557.2C47.3 560.2 47.4 561.8 47.0 566.2C46.6 570.6 45.4 577.9 44.8 583.7C44.2 589.6 43.6 596.1 43.5 601.3C43.4 606.4 43.5 609.5 44.3 614.4C45.0 619.3 45.8 625.2 47.9 630.6C49.9 636.0 53.3 642.0 56.8 646.9C60.3 651.9 64.3 656.1 68.7 660.3C73.2 664.6 78.6 668.9 83.5 672.3C88.5 675.6 93.4 678.4 98.3 680.3C103.3 682.3 106.7 683.2 113.2 684.1C119.7 685.0 128.5 685.7 137.2 685.9C146.0 686.2 158.0 685.6 165.6 685.4C173.3 685.2 177.3 684.9 183.1 684.9C189.0 684.9 193.0 685.2 200.7 685.4C208.3 685.6 220.3 686.2 229.0 685.9C237.8 685.7 246.6 685.0 253.0 684.1C259.5 683.2 263.0 682.3 267.9 680.3C272.9 678.4 277.8 675.6 282.7 672.3C287.7 668.9 293.1 664.6 297.6 660.3C302.0 656.1 306.0 651.9 309.5 646.9C312.9 642.0 316.3 636.0 318.4 630.6C320.5 625.2 321.3 619.3 322.0 614.4C322.7 609.5 322.9 606.4 322.8 601.3C322.7 596.1 322.1 589.6 321.5 583.7C320.9 577.9 319.7 570.6 319.3 566.2C318.9 561.8 318.9 560.2 318.9 557.2C318.9 554.2 318.9 552.6 319.3 548.2C319.7 543.8 320.9 536.5 321.5 530.7C322.1 524.8 322.7 518.3 322.8 513.1C322.9 508.0 322.7 504.9 322.0 500.0C321.3 495.1 320.5 489.2 318.4 483.8C316.3 478.4 312.9 472.4 309.5 467.5C306.0 462.5 302.0 458.3 297.6 454.1C293.1 449.8 287.7 445.5 282.7 442.1C277.8 438.8 272.9 436.0 267.9 434.1C263.0 432.1 259.5 431.2 253.0 430.3C246.6 429.4 237.8 428.7 229.0 428.5C220.3 428.2 208.3 428.8 200.7 429.0C193.0 429.2 189.0 429.5 183.1 429.5Z" fill="#00d9c5"/>
<path d="M112.8 510.5C109.9 508.6 107.4 506.5 104.0 504.7C100.6 502.9 96.6 500.9 92.4 499.9C88.2 498.9 83.0 498.4 78.8 498.9C74.6 499.4 70.4 500.5 67.2 502.8C64.0 505.1 61.4 508.3 59.4 512.5C57.4 516.7 56.3 521.2 55.5 528.0C54.7 534.8 54.7 545.2 54.6 553.3C54.5 561.4 54.5 569.8 55.1 576.6C55.7 583.4 56.4 588.8 58.4 594.0C60.4 599.2 63.8 604.2 67.2 607.6C70.6 611.0 74.6 613.1 78.8 614.4C83.0 615.7 87.9 616.2 92.4 615.4C96.9 614.6 102.4 611.5 106.0 609.6C109.6 607.7 111.2 605.7 113.8 603.7L252.5 603.7C255.1 605.7 256.7 607.7 260.3 609.6C263.8 611.5 269.3 614.6 273.9 615.4C278.4 616.2 283.3 615.7 287.5 614.4C291.7 613.1 295.7 611.0 299.1 607.6C302.5 604.2 305.8 599.2 307.9 594.0C309.9 588.8 310.5 583.4 311.2 576.6C311.8 569.8 311.7 561.4 311.7 553.3C311.6 545.2 311.6 534.8 310.8 528.0C310.0 521.2 308.8 516.7 306.9 512.5C304.9 508.3 302.3 505.1 299.1 502.8C295.8 500.5 291.7 499.4 287.5 498.9C283.3 498.4 278.1 498.9 273.9 499.9C269.7 500.9 265.7 502.9 262.3 504.7C258.9 506.5 256.4 508.6 253.5 510.5Z" fill="#00d976"/>
<path d="M104.0 512.3C98.8 512.7 93.7 512.2 88.5 513.4C83.3 514.6 76.9 516.5 73.0 519.3C69.1 522.1 67.0 525.0 65.2 530.0C63.4 535.0 62.8 542.3 62.3 549.4C61.8 556.5 61.6 566.2 62.3 572.7C62.9 579.2 64.1 583.8 66.2 588.2C68.3 592.6 71.0 596.3 75.0 598.9C79.0 601.5 85.3 602.9 90.5 603.7C95.7 604.5 100.8 603.7 106.0 603.7L260.3 603.7C265.4 603.7 270.6 604.5 275.8 603.7C280.9 602.9 287.2 601.5 291.3 598.9C295.3 596.3 297.9 592.6 300.1 588.2C302.2 583.8 303.3 579.2 304.0 572.7C304.6 566.2 304.4 556.5 304.0 549.4C303.5 542.3 302.8 535.0 301.1 530.0C299.3 525.0 297.1 522.1 293.3 519.3C289.4 516.5 282.9 514.6 277.8 513.4C272.6 512.2 267.4 512.7 262.3 512.3Z" fill="#00d927"/>
<path d="M102.1 512.4C97.6 514.0 92.5 514.9 88.5 517.3C84.5 519.7 80.7 522.6 77.9 527.0C75.2 531.4 73.1 537.8 72.0 543.5C70.9 549.2 70.8 555.2 71.1 561.0C71.4 566.8 72.2 573.0 74.0 578.5C75.8 584.0 78.6 590.3 81.7 594.0C84.8 597.7 88.7 599.3 92.4 600.8C96.1 602.3 100.1 602.1 104.0 602.8L262.3 602.8C266.1 602.1 270.1 602.3 273.9 600.8C277.6 599.3 281.5 597.7 284.6 594.0C287.6 590.3 290.5 584.0 292.3 578.5C294.0 573.0 294.8 566.8 295.2 561.0C295.5 555.2 295.4 549.2 294.3 543.5C293.1 537.8 291.1 531.4 288.4 527.0C285.6 522.6 281.8 519.7 277.8 517.3C273.7 514.9 268.7 514.0 264.2 512.4Z" fill="#27d900"/>
<path d="M101.7 512.4C98.6 514.4 95.1 515.0 92.4 518.3C89.7 521.5 87.4 527.0 85.6 531.9C83.8 536.8 82.2 542.2 81.7 547.4C81.2 552.6 81.7 557.5 82.7 563.0C83.7 568.5 85.6 575.2 87.6 580.4C89.5 585.6 92.0 590.4 94.4 594.0C96.8 597.6 100.5 600.3 102.1 601.8C103.7 603.3 103.4 602.6 104.0 603.0L262.3 603.0C262.9 602.6 262.6 603.3 264.2 601.8C265.8 600.3 269.4 597.6 271.9 594.0C274.3 590.4 276.7 585.6 278.7 580.4C280.6 575.2 282.6 568.5 283.6 563.0C284.5 557.5 285.0 552.6 284.6 547.4C284.1 542.2 282.4 536.8 280.7 531.9C278.9 527.0 276.5 521.5 273.9 518.3C271.2 515.0 267.7 514.4 264.6 512.4Z" fill="#76d900"/>
<path d="M109.6 511.8C108.8 509.9 108.0 508.0 107.3 506.0C106.5 504.1 105.5 503.0 105.0 500.0C104.5 497.0 104.1 491.9 104.3 488.2C104.4 484.6 104.8 481.3 105.8 477.8C106.8 474.4 108.0 470.7 110.2 467.5C112.5 464.3 115.9 461.3 119.1 458.5C122.3 455.8 125.6 453.1 129.3 451.1C133.0 449.0 136.0 447.4 141.3 446.1C146.7 444.8 154.6 443.9 161.6 443.3C168.5 442.6 175.9 442.1 183.1 442.1C190.3 442.1 197.7 442.6 204.7 443.3C211.6 443.9 219.5 444.8 224.9 446.1C230.3 447.4 233.2 449.0 236.9 451.1C240.6 453.1 244.0 455.8 247.2 458.5C250.4 461.3 253.8 464.3 256.0 467.5C258.2 470.7 259.5 474.4 260.5 477.8C261.5 481.3 261.9 484.6 262.0 488.2C262.1 491.9 261.8 497.0 261.3 500.0C260.8 503.0 259.8 504.1 259.0 506.0C258.2 508.0 257.4 509.9 256.6 511.8Z" fill="#00d976"/>
<path d="M125.8 512.6C125.9 509.2 125.6 506.4 126.2 502.5C126.8 498.6 127.7 493.8 129.5 489.4C131.3 485.0 133.7 480.3 137.1 476.3C140.5 472.3 145.5 467.9 150.2 465.3C154.9 462.7 160.0 461.5 165.5 460.5C171.0 459.5 177.3 459.4 183.1 459.4C189.0 459.4 195.3 459.5 200.8 460.5C206.3 461.5 211.3 462.7 216.1 465.3C220.8 467.9 225.7 472.3 229.2 476.3C232.6 480.3 234.9 485.0 236.8 489.4C238.6 493.8 239.4 498.6 240.1 502.5C240.7 506.4 240.3 509.2 240.5 512.6Z" fill="#00d927"/>
<path d="M141.4 511.8C143.9 507.2 145.2 502.0 149.1 497.8C152.9 493.6 158.7 489.4 164.4 486.8C170.1 484.3 176.9 482.2 183.1 482.2C189.4 482.2 196.2 484.3 201.9 486.8C207.6 489.4 213.4 493.6 217.2 497.8C221.0 502.0 222.3 507.2 224.9 511.8Z" fill="#27d900"/>
<path d="M113.1 603.5C111.3 606.7 108.7 609.3 107.6 613.1C106.5 616.9 106.2 621.5 106.6 626.2C107.0 630.9 108.0 636.8 109.8 641.5C111.6 646.2 113.7 650.4 117.5 654.6C121.3 658.8 126.6 663.7 132.8 666.6C139.0 669.5 146.2 671.0 154.6 672.1C163.0 673.2 173.6 673.2 183.1 673.2C192.6 673.2 203.3 673.2 211.7 672.1C220.1 671.0 227.3 669.5 233.5 666.6C239.6 663.7 244.9 658.8 248.8 654.6C252.6 650.4 254.6 646.2 256.5 641.5C258.3 636.8 259.3 630.9 259.7 626.2C260.0 621.5 259.7 616.9 258.7 613.1C257.6 609.3 255.0 606.7 253.2 603.5Z" fill="#00d976"/>
<path d="M126.2 603.5C126.9 609.6 126.9 616.2 128.4 621.8C129.9 627.4 131.7 632.5 135.0 637.1C138.3 641.7 142.9 646.1 148.0 649.1C153.1 652.1 159.6 653.8 165.5 655.0C171.4 656.2 177.3 656.4 183.1 656.4C189.0 656.4 194.9 656.2 200.8 655.0C206.6 653.8 213.2 652.1 218.3 649.1C223.3 646.1 228.0 641.7 231.3 637.1C234.5 632.5 236.4 627.4 237.9 621.8C239.3 616.2 239.3 609.6 240.1 603.5Z" fill="#00d927"/>
<path d="M141.5 602.5C142.2 604.6 141.9 605.5 143.7 608.7C145.5 611.9 148.8 618.1 152.4 621.8C156.0 625.4 160.4 628.6 165.5 630.6C170.6 632.6 177.3 633.9 183.1 633.9C189.0 633.9 195.6 632.6 200.8 630.6C205.9 628.6 210.2 625.4 213.9 621.8C217.5 618.1 220.7 611.9 222.6 608.7C224.4 605.5 224.0 604.6 224.8 602.5Z" fill="#27d900"/>
<path d="M101.2 511.7C99.9 517.8 98.3 524.0 97.3 530.0C96.3 536.0 95.2 541.9 95.0 547.4C94.8 552.9 95.4 557.8 96.3 563.0C97.2 568.2 99.4 573.3 100.2 578.5C101.0 583.7 100.6 590.0 101.2 594.0C101.8 598.0 103.1 599.9 104.0 602.8L262.3 602.8C263.2 599.9 264.4 598.0 265.1 594.0C265.7 590.0 265.2 583.7 266.1 578.5C266.9 573.3 269.1 568.2 270.0 563.0C270.8 557.8 271.4 552.9 271.3 547.4C271.1 541.9 270.0 536.0 269.0 530.0C267.9 524.0 266.4 517.8 265.1 511.7Z" fill="#c5d900"/>
<path d="M108.0 511.7C109.0 517.8 110.1 524.0 110.9 530.0C111.7 536.0 112.0 541.9 112.8 547.4C113.6 552.9 115.2 558.1 115.7 563.0C116.2 567.9 116.6 572.0 116.1 576.5C115.6 581.0 114.1 585.6 112.8 590.0C111.5 594.4 109.6 598.5 108.0 602.8L258.3 602.8C256.7 598.5 254.8 594.4 253.5 590.0C252.1 585.6 250.6 581.0 250.2 576.5C249.7 572.0 250.0 567.9 250.6 563.0C251.1 558.1 252.7 552.9 253.5 547.4C254.3 541.9 254.6 536.0 255.4 530.0C256.2 524.0 257.3 517.8 258.3 511.7Z" fill="#d99d00"/>
<path d="M119.6 511.7C122.2 515.8 124.8 519.3 127.4 524.0C130.0 528.7 133.2 534.2 135.1 539.7C137.0 545.2 138.2 551.0 139.0 557.1C139.8 563.2 140.2 570.7 140.0 576.5C139.8 582.3 139.0 587.6 138.0 592.0C137.0 596.4 135.5 599.2 134.2 602.8L232.1 602.8C230.8 599.2 229.2 596.4 228.3 592.0C227.3 587.6 226.4 582.3 226.3 576.5C226.1 570.7 226.4 563.2 227.3 557.1C228.1 551.0 229.2 545.2 231.2 539.7C233.1 534.2 236.3 528.7 238.9 524.0C241.4 519.3 244.1 515.8 246.7 511.7Z" fill="#d94f00"/>
<path d="M145.8 511.7C149.4 515.2 152.8 518.5 156.5 522.2C160.2 525.9 165.3 529.6 168.2 533.8C171.1 538.0 173.2 542.5 174.0 547.4C174.8 552.3 172.7 558.5 173.0 563.0C173.3 567.5 174.5 571.4 175.9 574.6C177.3 577.8 179.8 579.8 181.7 582.4L183.1 582.4L183.1 511.7Z" fill="#d90000"/>
<path d="M220.5 511.7C216.9 515.2 213.5 518.5 209.8 522.2C206.0 525.9 201.0 529.6 198.1 533.8C195.1 538.0 193.1 542.5 192.3 547.4C191.5 552.3 193.6 558.5 193.3 563.0C192.9 567.5 191.8 571.4 190.4 574.6C188.9 577.8 186.5 579.8 184.6 582.4L183.1 582.4L183.1 511.7Z" fill="#d90000"/>
<rect x="181.33" y="511.70" width="3.60" height="29.70" fill="url(#slg2)"/>
<rect x="181.33" y="541.40" width="3.60" height="61.40" fill="url(#slg)"/>
<rect x="182.93" y="540.90" width="3.00" height="1" fill="#d94f00"/>
<rect x="182.93" y="571.00" width="3.00" height="1" fill="#d94f00"/>
</g>
<clipPath id="cd"><rect x="388.60" y="400.00" width="321.70" height="319.90"/></clipPath>
<g filter="url(#blur1)"><g clip-path="url(#cd)">
<rect x="385.60" y="397.00" width="327.70" height="325.90" fill="#004fd9"/>
<path d="M377.0 445.0C381.2 442.9 384.8 441.0 389.5 438.8C394.2 436.5 399.1 434.0 405.0 431.2C410.9 428.5 417.5 425.2 425.0 422.5C432.5 419.8 440.8 416.7 450.0 415.0C459.2 413.3 470.0 412.5 480.0 412.5C490.0 412.5 501.7 414.2 510.0 415.0C518.3 415.8 523.4 417.1 530.0 417.5C536.6 417.9 543.1 417.2 549.6 417.2C556.1 417.2 562.6 417.9 569.2 417.5C575.8 417.1 580.9 415.8 589.2 415.0C597.5 414.2 609.2 412.5 619.2 412.5C629.2 412.5 640.0 413.3 649.2 415.0C658.4 416.7 666.7 419.8 674.2 422.5C681.7 425.2 688.3 428.5 694.2 431.2C700.1 434.0 705.0 436.5 709.7 438.8C714.4 441.0 718.0 442.9 722.2 445.0L722.2 674.0C718.0 676.0 714.4 677.8 709.7 680.0C705.0 682.2 701.0 684.6 694.2 687.5C687.5 690.4 677.5 694.7 669.2 697.5C660.9 700.3 652.5 703.0 644.2 704.5C635.9 706.0 628.4 706.3 619.2 706.5C610.0 706.7 597.5 705.9 589.2 705.5C580.9 705.1 575.8 704.3 569.2 704.2C562.6 704.1 556.1 705.0 549.6 705.0C543.1 705.0 536.6 704.1 530.0 704.2C523.4 704.3 518.3 705.1 510.0 705.5C501.7 705.9 489.2 706.7 480.0 706.5C470.8 706.3 463.3 706.0 455.0 704.5C446.7 703.0 438.3 700.3 430.0 697.5C421.7 694.7 411.8 690.4 405.0 687.5C398.2 684.6 394.2 682.2 389.5 680.0C384.8 677.8 381.2 676.0 377.0 674.0Z" fill="#009dd9"/>
<path d="M377.0 482.0C381.2 480.1 385.2 478.2 389.5 476.2C393.8 474.2 397.4 473.1 402.5 470.0C407.6 466.9 413.3 461.9 420.0 457.5C426.7 453.1 434.6 447.5 442.5 443.8C450.4 440.0 457.9 437.1 467.5 435.0C477.1 432.9 486.3 432.1 500.0 431.2C513.7 430.4 533.1 430.0 549.6 430.0C566.1 430.0 585.5 430.4 599.2 431.2C612.9 432.1 622.1 432.9 631.7 435.0C641.3 437.1 648.8 440.0 656.7 443.8C664.6 447.5 672.5 453.1 679.2 457.5C685.9 461.9 691.6 466.9 696.7 470.0C701.8 473.1 705.5 474.2 709.7 476.2C714.0 478.2 718.0 480.1 722.2 482.0L722.2 636.0C718.0 638.2 714.4 640.0 709.7 642.5C705.0 645.0 700.1 647.5 694.2 651.2C688.3 655.0 681.3 660.6 674.2 665.0C667.1 669.4 660.0 674.0 651.7 677.5C643.4 681.0 633.8 684.1 624.2 686.2C614.6 688.4 606.6 689.4 594.2 690.3C581.8 691.2 564.5 691.5 549.6 691.5C534.7 691.5 517.4 691.2 505.0 690.3C492.6 689.4 484.6 688.4 475.0 686.2C465.4 684.1 455.8 681.0 447.5 677.5C439.2 674.0 432.1 669.4 425.0 665.0C417.9 660.6 410.9 655.0 405.0 651.2C399.1 647.5 394.2 645.0 389.5 642.5C384.8 640.0 381.2 638.2 377.0 636.0Z" fill="#00d9c5"/>
<ellipse cx="549.4" cy="400.0" rx="42" ry="7.5" fill="#0000d9"/>
<ellipse cx="549.4" cy="719.9" rx="42" ry="7.5" fill="#0000d9"/>
<path d="M386.6 398.0 L386.6 416.6 Q406.0 413.3 418.6 398.0 Z" fill="#0000d9"/>
<path d="M386.6 721.9 L386.6 703.3 Q406.0 706.6 418.6 721.9 Z" fill="#0000d9"/>
<path d="M712.3 398.0 L712.3 416.6 Q692.9 413.3 680.3 398.0 Z" fill="#0000d9"/>
<path d="M712.3 721.9 L712.3 703.3 Q692.9 706.6 680.3 721.9 Z" fill="#0000d9"/>
<path d="M387.5 529.0C390.3 531.7 393.8 534.3 396.0 537.0C398.2 539.7 399.6 542.7 400.5 545.0C401.4 547.3 401.5 549.2 401.2 551.0C400.9 552.8 399.8 554.5 398.5 556.0C397.2 557.5 393.3 558.8 393.3 560.1C393.3 561.4 397.2 562.5 398.5 564.0C399.8 565.5 400.9 567.2 401.2 569.0C401.5 570.8 401.4 572.7 400.5 575.0C399.6 577.3 398.2 580.3 396.0 583.0C393.8 585.7 390.3 588.3 387.5 591.0Z" fill="#009dd9"/>
<path d="M712.0 528.0C709.2 531.0 705.6 534.2 703.5 537.0C701.4 539.8 700.3 542.7 699.5 545.0C698.7 547.3 698.4 549.3 698.7 551.0C699.0 552.7 700.1 553.8 701.5 555.0C702.9 556.2 707.0 557.2 707.0 558.5C707.0 559.8 702.9 561.1 701.5 562.5C700.1 563.9 699.0 565.1 698.7 567.0C698.4 568.9 698.7 571.7 699.5 574.0C700.3 576.3 701.4 578.5 703.5 581.0C705.6 583.5 709.2 586.3 712.0 589.0Z" fill="#009dd9"/>
<ellipse cx="389.6" cy="560" rx="2" ry="1.8" fill="#004fd9"/>
<path d="M472.3 512.0C470.9 508.2 469.0 504.5 468.1 500.5C467.2 496.5 466.7 492.1 466.9 488.0C467.1 483.9 467.3 479.3 469.4 475.6C471.5 471.9 474.7 469.0 479.3 465.7C483.9 462.4 489.8 458.8 496.8 455.7C503.9 452.6 512.8 448.7 521.6 447.0C530.4 445.3 545.1 445.6 549.7 445.3C554.4 445.0 544.9 445.0 549.5 445.3C554.1 445.6 568.8 445.3 577.6 447.0C586.4 448.7 595.4 452.6 602.4 455.7C609.5 458.8 615.3 462.4 619.9 465.7C624.5 469.0 627.7 471.9 629.8 475.6C631.9 479.3 632.1 483.9 632.3 488.0C632.5 492.1 632.0 496.5 631.1 500.5C630.2 504.5 628.3 508.2 626.9 512.0Z" fill="#00d976"/>
<path d="M472.5 607.5C470.8 612.5 468.3 617.5 467.5 622.5C466.7 627.5 466.2 632.5 467.5 637.5C468.8 642.5 471.2 647.9 475.0 652.5C478.8 657.1 483.8 661.7 490.0 665.0C496.2 668.3 503.8 670.8 512.5 672.5C521.2 674.2 533.3 674.8 542.5 675.0C551.7 675.2 558.8 675.0 567.5 673.8C576.2 672.5 586.7 670.6 595.0 667.5C603.3 664.4 611.7 659.6 617.5 655.0C623.3 650.4 627.7 645.0 630.0 640.0C632.3 635.0 631.5 630.4 631.2 625.0C631.0 619.6 629.6 613.3 628.8 607.5Z" fill="#00d976"/>
<path d="M469.0 511.0C465.2 508.6 461.5 505.8 457.5 503.8C453.5 501.7 449.6 499.6 445.0 498.8C440.4 497.9 434.6 497.5 430.0 498.8C425.4 500.0 420.6 502.7 417.5 506.2C414.4 509.8 412.5 515.6 411.2 520.0C410.0 524.4 410.6 528.8 410.0 532.5C409.4 536.2 408.7 539.1 407.5 542.5C406.3 545.9 403.8 548.9 403.0 553.0C402.2 557.1 402.5 563.8 403.0 567.0C403.5 570.2 405.1 569.5 406.2 572.5C407.4 575.5 409.2 580.8 410.0 585.0C410.8 589.2 410.0 593.3 411.2 597.5C412.5 601.7 414.4 606.9 417.5 610.0C420.6 613.1 425.4 615.2 430.0 616.2C434.6 617.3 440.4 616.9 445.0 616.2C449.6 615.6 453.5 613.9 457.5 612.5C461.5 611.1 465.2 609.5 469.0 608.0Z" fill="#00d976"/>
<path d="M630.0 511.0C634.2 508.2 637.9 504.5 642.5 502.5C647.1 500.5 652.5 498.8 657.5 498.8C662.5 498.8 668.3 500.2 672.5 502.5C676.7 504.8 680.0 508.8 682.5 512.5C685.0 516.2 686.5 521.2 687.5 525.0C688.5 528.8 687.7 531.7 688.8 535.0C689.8 538.3 692.4 542.0 693.8 545.0C695.1 548.0 696.5 549.7 697.0 553.0C697.5 556.3 697.5 562.2 697.0 565.0C696.5 567.8 694.9 567.1 693.8 570.0C692.6 572.9 691.0 578.3 690.0 582.5C689.0 586.7 688.8 591.0 687.5 595.0C686.2 599.0 685.0 603.1 682.5 606.2C680.0 609.4 676.7 612.1 672.5 613.8C668.3 615.4 662.5 616.2 657.5 616.2C652.5 616.2 647.1 615.0 642.5 613.8C637.9 612.5 634.2 610.2 630.0 608.5Z" fill="#00d976"/>
<path d="M489.3 512.0C489.7 507.3 489.2 502.2 490.5 498.0C491.8 493.8 493.7 490.5 496.8 486.8C499.9 483.1 504.2 478.7 509.2 475.6C514.2 472.5 519.9 469.8 526.6 468.1C533.4 466.5 545.9 466.1 549.7 465.7C553.5 465.3 545.7 465.3 549.5 465.7C553.3 466.1 565.9 466.5 572.6 468.1C579.4 469.8 585.0 472.5 590.0 475.6C595.0 478.7 599.3 483.1 602.4 486.8C605.5 490.5 607.5 493.8 608.7 498.0C610.0 502.2 609.5 507.3 609.9 512.0Z" fill="#00d927"/>
<path d="M488.8 607.5C489.2 611.7 488.5 615.4 490.0 620.0C491.5 624.6 493.8 630.4 497.5 635.0C501.2 639.6 506.2 644.2 512.5 647.5C518.8 650.8 527.1 653.5 535.0 655.0C542.9 656.5 552.5 657.1 560.0 656.2C567.5 655.4 573.8 653.1 580.0 650.0C586.2 646.9 592.9 642.1 597.5 637.5C602.1 632.9 605.4 627.5 607.5 622.5C609.6 617.5 609.2 612.5 610.0 607.5Z" fill="#00d927"/>
<path d="M467.0 510.8C461.3 510.5 454.9 509.3 450.0 510.0C445.1 510.7 441.0 512.5 437.5 515.0C434.0 517.5 430.8 521.7 428.8 525.0C426.7 528.3 426.2 532.5 425.0 535.0C423.8 537.5 422.8 537.2 421.2 540.0C419.8 542.8 416.9 547.0 416.0 552.0C415.1 557.0 415.1 565.1 416.0 570.0C416.9 574.9 419.5 577.9 421.2 581.2C423.0 584.6 424.0 586.9 426.2 590.0C428.5 593.1 431.5 597.3 435.0 600.0C438.5 602.7 442.2 604.9 447.5 606.2C452.8 607.6 460.5 607.4 467.0 608.0Z" fill="#00d927"/>
<path d="M632.0 511.5C637.2 511.8 642.4 511.1 647.5 512.5C652.6 513.9 658.8 517.1 662.5 520.0C666.2 522.9 668.1 527.1 670.0 530.0C671.9 532.9 672.1 534.2 673.8 537.5C675.4 540.8 679.0 544.9 680.0 550.0C681.0 555.1 681.0 563.0 680.0 568.0C679.0 573.0 675.8 576.3 673.8 580.0C671.7 583.7 670.2 586.7 667.5 590.0C664.8 593.3 661.2 597.3 657.5 600.0C653.8 602.7 649.2 604.9 645.0 606.2C640.8 607.6 636.3 607.6 632.0 608.3Z" fill="#00d927"/>
<path d="M517.5 512.0C521.7 508.0 524.6 503.0 530.0 500.0C535.4 497.0 543.3 494.3 550.0 493.8C556.7 493.2 564.2 494.2 570.0 496.5C575.8 498.8 581.9 504.9 585.0 507.5C588.1 510.1 587.5 510.5 588.8 512.0Z" fill="#27d900"/>
<path d="M514.0 607.5C516.7 611.0 518.5 614.8 522.0 618.0C525.5 621.2 530.4 624.6 535.0 626.5C539.6 628.4 544.7 629.6 549.7 629.6C554.7 629.6 560.1 628.4 565.0 626.5C569.9 624.6 575.2 621.2 579.0 618.0C582.8 614.8 585.0 611.0 588.0 607.5Z" fill="#27d900"/>
<clipPath id="hd"><path d="M393.3 560.1 Q432.0 531.0 467.5 511.3 L631.7 511.3 Q668.0 530.0 707.0 558.5 Q668.0 588.5 631.7 608.3 L467.5 608.0 Q432.0 588.5 393.3 560.1Z"/></clipPath>
<g clip-path="url(#hd)">
<rect x="389" y="505" width="322" height="110" fill="#00d9c5"/>
<path d="M398.5 543.0C398.5 547.0 398.9 552.1 398.5 555.0C398.1 557.9 396.3 558.4 396.3 560.1C396.3 561.8 398.1 562.2 398.5 565.0C398.9 567.8 398.5 573.0 398.5 577.0L549.6 625.0L549.6 495.0Z" fill="#00d976"/>
<path d="M404.6 539.9C404.6 543.9 405.0 548.5 404.6 551.9C404.2 555.3 402.7 557.4 402.5 560.1C402.3 562.9 403.4 565.0 403.6 568.4C403.8 571.8 403.6 576.4 403.6 580.4L549.6 625.0L549.6 495.0Z" fill="#00d927"/>
<path d="M416.0 532.7C416.0 536.7 416.9 540.1 416.0 544.7C415.1 549.3 411.5 555.5 410.8 560.1C410.1 564.7 411.3 569.5 411.8 572.5C412.3 575.5 413.6 575.1 414.0 578.0C414.4 580.9 414.0 586.0 414.0 590.0L549.6 625.0L549.6 495.0Z" fill="#27d900"/>
<path d="M434.5 521.3C434.5 525.3 435.9 529.0 434.5 533.3C433.1 537.6 427.9 542.5 426.0 547.0C424.1 551.5 423.4 555.9 423.2 560.1C423.0 564.3 424.0 568.2 425.0 572.0C426.0 575.8 428.7 579.0 429.4 582.8C430.1 586.6 429.4 590.8 429.4 594.8L549.6 625.0L549.6 495.0Z" fill="#76d900"/>
<path d="M446.9 512.0C446.9 516.0 448.3 518.8 446.9 524.0C445.5 529.2 440.4 537.0 438.5 543.0C436.6 549.0 435.6 554.4 435.5 560.1C435.4 565.8 436.6 571.7 438.0 577.0C439.4 582.3 442.8 587.5 443.8 592.0C444.8 596.5 443.8 600.0 443.8 604.0L549.6 625.0L549.6 495.0Z" fill="#c5d900"/>
<path d="M461.3 502.8C461.3 506.8 462.3 510.0 461.3 514.8C460.3 519.5 456.5 525.1 455.1 531.3C453.7 537.5 452.9 545.0 453.1 551.9C453.3 558.8 455.4 566.3 456.2 572.5C457.0 578.7 457.2 583.8 458.2 589.0C459.2 594.2 461.7 599.1 462.4 603.5C463.1 607.9 462.4 611.5 462.4 615.5L549.6 625.0L549.6 495.0Z" fill="#d99d00"/>
<path d="M471.6 498.0C471.6 502.0 470.9 505.1 471.6 510.0C472.3 514.9 474.8 520.8 475.8 527.1C476.8 533.4 477.3 540.9 477.8 547.8C478.3 554.7 479.2 561.9 478.9 568.4C478.6 574.9 477.2 581.5 475.8 587.0C474.4 592.5 472.0 597.7 470.6 601.4C469.2 605.1 468.0 605.7 467.5 609.0C467.0 612.3 467.5 617.0 467.5 621.0L549.6 625.0L549.6 495.0Z" fill="#d94f00"/>
<path d="M700.0 542.5C700.0 546.5 699.7 551.8 700.0 554.5C700.3 557.2 701.8 557.2 701.8 558.5C701.8 559.8 700.3 559.8 700.0 562.5C699.7 565.2 700.0 570.5 700.0 574.5L549.6 625.0L549.6 495.0Z" fill="#00d976"/>
<path d="M692.5 536.8C692.5 540.8 692.0 545.3 692.5 548.8C693.0 552.3 695.4 555.1 695.6 558.0C695.8 560.9 693.9 562.9 693.5 566.3C693.1 569.7 693.5 574.3 693.5 578.3L549.6 625.0L549.6 495.0Z" fill="#00d927"/>
<path d="M681.2 529.6C681.2 533.6 680.4 536.9 681.2 541.6C682.1 546.3 685.8 553.0 686.3 558.0C686.8 563.0 685.0 568.5 684.3 571.5C683.6 574.5 682.4 573.2 682.0 576.0C681.6 578.8 682.0 584.0 682.0 588.0L549.6 625.0L549.6 495.0Z" fill="#27d900"/>
<path d="M668.8 522.4C668.8 526.4 667.8 530.2 668.8 534.4C669.8 538.6 673.8 543.5 675.0 547.8C676.2 552.1 676.2 555.6 676.0 560.1C675.8 564.6 674.9 571.2 674.0 574.6C673.1 578.0 671.4 577.8 670.9 580.8C670.4 583.8 670.9 588.8 670.9 592.8L549.6 625.0L549.6 495.0Z" fill="#76d900"/>
<path d="M656.4 515.1C656.4 519.1 655.4 522.7 656.4 527.1C657.4 531.5 661.4 536.5 662.6 541.6C663.8 546.8 664.0 552.5 663.6 558.0C663.2 563.5 661.7 569.4 660.5 574.6C659.3 579.8 657.1 584.6 656.4 589.0C655.7 593.4 656.4 597.0 656.4 601.0L549.6 625.0L549.6 495.0Z" fill="#c5d900"/>
<path d="M637.8 503.8C637.8 507.8 636.9 512.3 637.8 515.8C638.7 519.3 641.5 520.7 643.0 525.0C644.5 529.3 646.4 536.1 647.1 541.6C647.8 547.1 647.8 552.5 647.1 558.0C646.4 563.5 644.0 569.4 643.0 574.6C642.0 579.8 641.5 584.5 641.0 589.0C640.5 593.5 640.1 597.3 639.9 601.4C639.7 605.5 639.9 609.4 639.9 613.4L549.6 625.0L549.6 495.0Z" fill="#d99d00"/>
<path d="M631.7 498.0C631.7 502.0 632.4 504.4 631.7 510.0C631.0 515.5 628.7 524.7 627.5 531.3C626.3 537.9 625.8 543.6 624.4 549.8C623.0 556.0 620.0 562.2 619.3 568.4C618.6 574.6 619.4 581.3 620.3 587.0C621.1 592.7 622.8 598.6 624.4 602.4C626.0 606.1 628.7 606.3 629.6 609.5C630.5 612.7 629.6 617.5 629.6 621.5L549.6 625.0L549.6 495.0Z" fill="#d94f00"/>
<path d="M505.7 511.0C508.8 515.0 512.1 518.6 515.0 523.0C517.9 527.4 521.3 532.3 523.2 537.5C525.1 542.7 525.9 548.2 526.3 554.0C526.6 559.8 525.1 567.0 525.3 572.5C525.5 578.0 526.0 582.9 527.4 587.0C528.8 591.1 531.2 594.9 533.5 597.3C535.8 599.7 538.3 600.5 541.0 601.5C543.7 602.5 546.7 602.5 549.6 603.0L549.6 603.0L549.6 510.0Z" fill="#d90000"/>
<path d="M609.0 511.0C604.9 515.7 600.7 519.9 596.6 525.0C592.5 530.1 587.6 536.1 584.2 541.6C580.8 547.1 578.1 552.5 576.0 558.0C573.9 563.5 573.5 570.1 571.8 574.6C570.1 579.1 568.1 582.4 565.6 585.0C563.1 587.6 559.7 589.3 557.0 590.5C554.3 591.7 552.1 591.7 549.6 592.3L549.6 592.3L549.6 510.0Z" fill="#d90000"/>
</g>
<rect x="547.00" y="511.30" width="5.20" height="96.90" fill="#c8b410"/>
<rect x="547.40" y="511.30" width="4.40" height="96.90" fill="#30d060"/>
<rect x="547.90" y="511.30" width="3.40" height="31.70" fill="#10b8a8"/>
<rect x="547.90" y="543.00" width="3.40" height="65.20" fill="#08a0c4"/>
<rect x="547.00" y="542.40" width="5.80" height="1.2" fill="#d90000"/>
<rect x="547.00" y="575.20" width="5.80" height="1.2" fill="#d90000"/>
</g></g>
<rect x="714.30" y="47.40" width="12.10" height="7.78" fill="#ff0000"/>
<rect x="714.30" y="54.88" width="12.10" height="7.78" fill="#ff5d00"/>
<rect x="714.30" y="62.37" width="12.10" height="7.78" fill="#ffb900"/>
<rect x="714.30" y="69.85" width="12.10" height="7.78" fill="#e8ff00"/>
<rect x="714.30" y="77.33" width="12.10" height="7.78" fill="#8bff00"/>
<rect x="714.30" y="84.82" width="12.10" height="7.78" fill="#2eff00"/>
<rect x="714.30" y="92.30" width="12.10" height="7.78" fill="#00ff2e"/>
<rect x="714.30" y="99.78" width="12.10" height="7.78" fill="#00ff8b"/>
<rect x="714.30" y="107.27" width="12.10" height="7.78" fill="#00ffe8"/>
<rect x="714.30" y="114.75" width="12.10" height="7.78" fill="#00b9ff"/>
<rect x="714.30" y="122.23" width="12.10" height="7.78" fill="#005dff"/>
<rect x="714.30" y="129.72" width="12.10" height="7.78" fill="#0000ff"/>
<text x="719.5" y="32.8" font-family="Liberation Serif, serif" font-size="14.5" fill="#222" textLength="95" lengthAdjust="spacing">Displacement/m</text>
<rect x="726.40" y="46.95" width="2.2" height="0.9" fill="#9a9a9a"/>
<rect x="726.40" y="61.92" width="2.2" height="0.9" fill="#9a9a9a"/>
<rect x="726.40" y="76.88" width="2.2" height="0.9" fill="#9a9a9a"/>
<rect x="726.40" y="91.85" width="2.2" height="0.9" fill="#9a9a9a"/>
<rect x="726.40" y="106.82" width="2.2" height="0.9" fill="#9a9a9a"/>
<rect x="726.40" y="121.78" width="2.2" height="0.9" fill="#9a9a9a"/>
<rect x="726.40" y="136.75" width="2.2" height="0.9" fill="#9a9a9a"/>
<text x="738.0" y="50.1" font-family="Liberation Serif, serif" font-size="9.5" fill="#222" letter-spacing="1.15">+2.618×10<tspan dy="-3" font-size="7" letter-spacing="0.4">-2</tspan></text>
<text x="738.0" y="64.7" font-family="Liberation Serif, serif" font-size="9.5" fill="#222" letter-spacing="1.15">+2.181×10<tspan dy="-3" font-size="7" letter-spacing="0.4">-2</tspan></text>
<text x="738.0" y="78.7" font-family="Liberation Serif, serif" font-size="9.5" fill="#222" letter-spacing="1.15">+1.745×10<tspan dy="-3" font-size="7" letter-spacing="0.4">-2</tspan></text>
<text x="738.0" y="93.0" font-family="Liberation Serif, serif" font-size="9.5" fill="#222" letter-spacing="1.15">+1.309×10<tspan dy="-3" font-size="7" letter-spacing="0.4">-2</tspan></text>
<text x="738.0" y="107.4" font-family="Liberation Serif, serif" font-size="9.5" fill="#222" letter-spacing="1.15">+8.725×10<tspan dy="-3" font-size="7" letter-spacing="0.4">-3</tspan></text>
<text x="738.0" y="122.0" font-family="Liberation Serif, serif" font-size="9.5" fill="#222" letter-spacing="1.15">+4.363×10<tspan dy="-3" font-size="7" letter-spacing="0.4">-3</tspan></text>
<text x="738.0" y="136.7" font-family="Liberation Serif, serif" font-size="9.5" fill="#222" letter-spacing="1.15">+0.000×10<tspan dy="-3" font-size="7" letter-spacing="0.4">-3</tspan></text>
<rect x="717.90" y="427.50" width="12.10" height="8.00" fill="#ff0000"/>
<rect x="717.90" y="435.20" width="12.10" height="8.00" fill="#ff5d00"/>
<rect x="717.90" y="442.90" width="12.10" height="8.00" fill="#ffb900"/>
<rect x="717.90" y="450.60" width="12.10" height="8.00" fill="#e8ff00"/>
<rect x="717.90" y="458.30" width="12.10" height="8.00" fill="#8bff00"/>
<rect x="717.90" y="466.00" width="12.10" height="8.00" fill="#2eff00"/>
<rect x="717.90" y="473.70" width="12.10" height="8.00" fill="#00ff2e"/>
<rect x="717.90" y="481.40" width="12.10" height="8.00" fill="#00ff8b"/>
<rect x="717.90" y="489.10" width="12.10" height="8.00" fill="#00ffe8"/>
<rect x="717.90" y="496.80" width="12.10" height="8.00" fill="#00b9ff"/>
<rect x="717.90" y="504.50" width="12.10" height="8.00" fill="#005dff"/>
<rect x="717.90" y="512.20" width="12.10" height="8.00" fill="#0000ff"/>
<text x="724.3" y="416.9" font-family="Liberation Serif, serif" font-size="14.5" fill="#222" textLength="95" lengthAdjust="spacing">Displacement/m</text>
<rect x="730.00" y="427.05" width="2.2" height="0.9" fill="#9a9a9a"/>
<rect x="730.00" y="442.45" width="2.2" height="0.9" fill="#9a9a9a"/>
<rect x="730.00" y="457.85" width="2.2" height="0.9" fill="#9a9a9a"/>
<rect x="730.00" y="473.25" width="2.2" height="0.9" fill="#9a9a9a"/>
<rect x="730.00" y="488.65" width="2.2" height="0.9" fill="#9a9a9a"/>
<rect x="730.00" y="504.05" width="2.2" height="0.9" fill="#9a9a9a"/>
<rect x="730.00" y="519.45" width="2.2" height="0.9" fill="#9a9a9a"/>
<text x="743.2" y="434.0" font-family="Liberation Serif, serif" font-size="9.5" fill="#222" letter-spacing="1.15">+2.693×10<tspan dy="-3" font-size="7" letter-spacing="0.4">-2</tspan></text>
<text x="743.2" y="448.2" font-family="Liberation Serif, serif" font-size="9.5" fill="#222" letter-spacing="1.15">+2.244×10<tspan dy="-3" font-size="7" letter-spacing="0.4">-2</tspan></text>
<text x="743.2" y="462.3" font-family="Liberation Serif, serif" font-size="9.5" fill="#222" letter-spacing="1.15">+1.795×10<tspan dy="-3" font-size="7" letter-spacing="0.4">-2</tspan></text>
<text x="743.2" y="476.5" font-family="Liberation Serif, serif" font-size="9.5" fill="#222" letter-spacing="1.15">+1.346×10<tspan dy="-3" font-size="7" letter-spacing="0.4">-2</tspan></text>
<text x="743.2" y="491.1" font-family="Liberation Serif, serif" font-size="9.5" fill="#222" letter-spacing="1.15">+8.976×10<tspan dy="-3" font-size="7" letter-spacing="0.4">-3</tspan></text>
<text x="743.2" y="505.7" font-family="Liberation Serif, serif" font-size="9.5" fill="#222" letter-spacing="1.15">+4.488×10<tspan dy="-3" font-size="7" letter-spacing="0.4">-3</tspan></text>
<text x="743.2" y="519.7" font-family="Liberation Serif, serif" font-size="9.5" fill="#222" letter-spacing="1.15">+0.000×10<tspan dy="-3" font-size="7" letter-spacing="0.4">-3</tspan></text>
</svg>
<div class="cap" style="left:169.5px;top:372.4px;letter-spacing:0.00px">(<b>a</b>)</div>
<div class="cap" style="left:590.1px;top:372.4px;letter-spacing:0.40px">(<b>b</b>)</div>
<div class="cap" style="left:169.7px;top:735.7px;letter-spacing:0.00px">(<b>c</b>)</div>
<div class="cap" style="left:590.3px;top:735.7px;letter-spacing:0.40px">(<b>d</b>)</div>
</body></html>
